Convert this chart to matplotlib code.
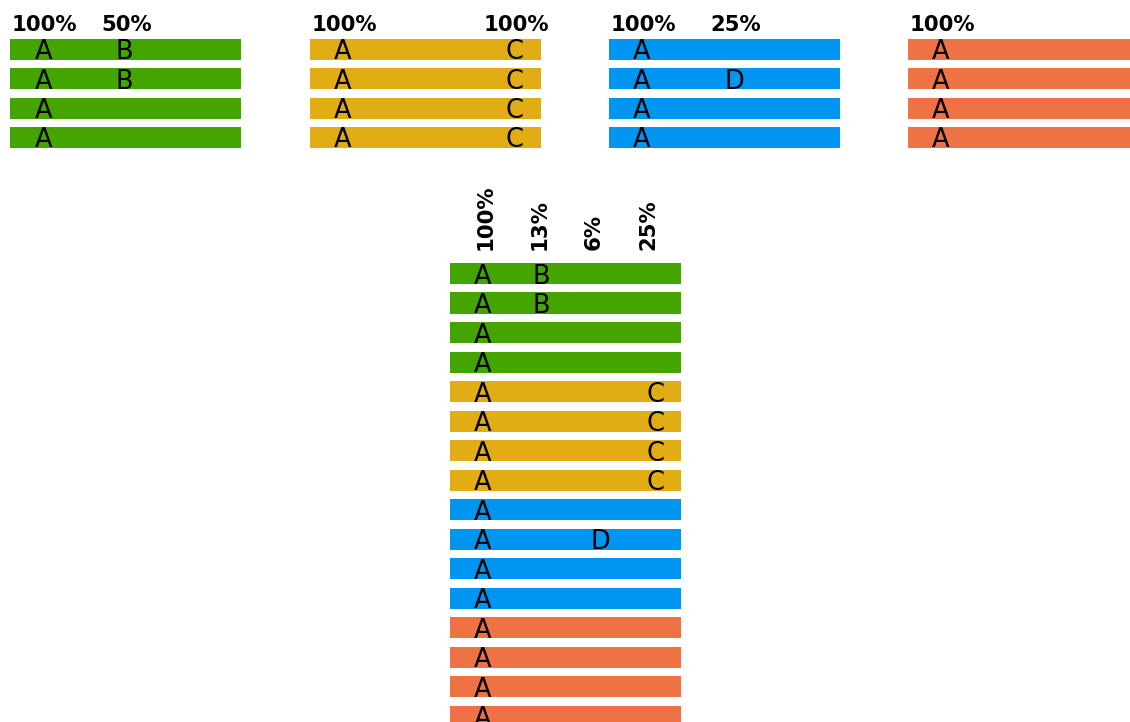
import matplotlib.pyplot as plt

# alignment of four groups, one string per sequence, '-' marks a gap
group_rows = [
    ["AB--", "AB--", "A---", "A---"],
    ["A--C", "A--C", "A--C", "A--C"],
    ["A---", "A-D-", "A---", "A---"],
    ["A---", "A---", "A---", "A---"],
]
group_colors = ["#44a500", "#e2ac14", "#0095f0", "#ee7243"]

# pixel layout of the panels (figure is 1130 x 722 px)
W, H = 1130, 722
panel_w = 231
top_left = [10, 310, 609, 908]
top_letter_x = [[34, 114], [33, 205], [33, 125], [33]]
top_header_x = [[34, 117], [34, 206], [34, 127], [34]]
bottom_left = 450
bottom_letter_x = [33, 91, 150, 206]
bottom_header_x = [36, 90, 144, 198]

LETTER_SIZE = 18.5
HEADER_SIZE = 15.3
BAR_H = 0.715


def pct(rows, col):
    n = sum(r[col] != "-" for r in rows)
    return f"{int(100 * n / len(rows) + 0.5)}%"


def panel(fig, left, top_row_center, pitch, nrows):
    top = top_row_center - pitch / 2
    height = nrows * pitch
    ax = fig.add_axes([left / W, 1 - (top + height) / H, panel_w / W, height / H])
    ax.set_xlim(0, panel_w)
    ax.set_ylim(nrows - 0.5, -0.5)
    ax.axis("off")
    return ax


fig = plt.figure(figsize=(W / 100, H / 100), dpi=100)

# one small panel per group
top_pitch = 29.33
for g, rows in enumerate(group_rows):
    ax = panel(fig, top_left[g], 49.5, top_pitch, len(rows))
    ax.barh(range(len(rows)), panel_w, height=BAR_H, color=group_colors[g])
    cols = [c for c in range(4) if any(r[c] != "-" for r in rows)]
    for k, c in enumerate(cols):
        ax.text(top_header_x[g][k], (25 - 49.5) / top_pitch, pct(rows, c),
                ha="center", va="center", fontsize=HEADER_SIZE,
                fontweight="bold", clip_on=False)
        for i, r in enumerate(rows):
            if r[c] != "-":
                ax.text(top_letter_x[g][k], i + 0.34, r[c], ha="center",
                        va="baseline", fontsize=LETTER_SIZE)

# combined alignment, columns ordered by position
all_rows = [r for rows in group_rows for r in rows]
all_colors = [group_colors[g] for g, rows in enumerate(group_rows) for _ in rows]
bot_pitch = 29.53
ax = panel(fig, bottom_left, 273.5, bot_pitch, len(all_rows))
ax.barh(range(len(all_rows)), panel_w, height=BAR_H, color=all_colors)
for c in range(4):
    ax.text(bottom_header_x[c], (250 - 273.5) / bot_pitch, pct(all_rows, c),
            ha="center", va="bottom", rotation=90, fontsize=HEADER_SIZE,
            fontweight="bold", clip_on=False)
    for i, r in enumerate(all_rows):
        if r[c] != "-":
            ax.text(bottom_letter_x[c], i + 0.34, r[c], ha="center",
                    va="baseline", fontsize=LETTER_SIZE)

fig.savefig("out.png", dpi=100)
